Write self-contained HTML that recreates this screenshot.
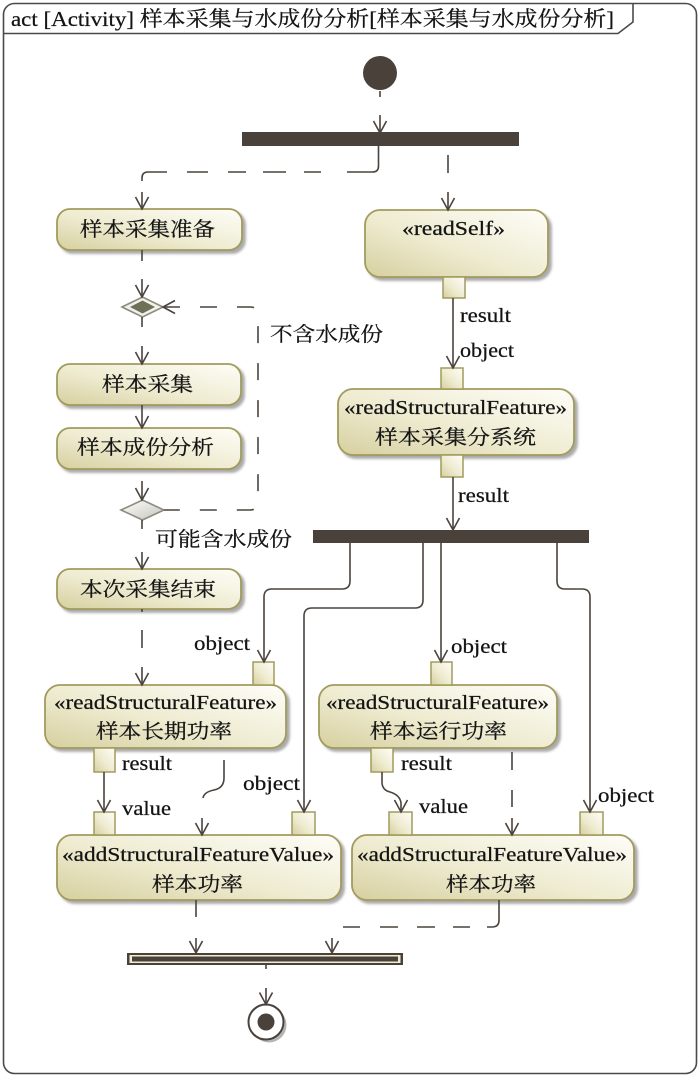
<!DOCTYPE html>
<html>
<head>
<meta charset="utf-8">
<style>
html,body{margin:0;padding:0;background:#fff;}
svg{display:block;}
text{font-family:"Liberation Serif","Noto Serif CJK SC",serif;fill:#141414;stroke:#141414;stroke-width:0.25;}
</style>
</head>
<body>
<svg width="700" height="1077" viewBox="0 0 700 1077" xmlns="http://www.w3.org/2000/svg">
<defs>
  <linearGradient id="g" x1="0" y1="1" x2="1" y2="0">
    <stop offset="0" stop-color="#d6cf9f"/>
    <stop offset="0.45" stop-color="#eeebd0"/>
    <stop offset="1" stop-color="#fefdf8"/>
  </linearGradient>
  <linearGradient id="gd" x1="0" y1="0" x2="1" y2="1">
    <stop offset="0" stop-color="#ffffff"/>
    <stop offset="1" stop-color="#c4c4bb"/>
  </linearGradient>
  <filter id="sh" x="-10%" y="-20%" width="130%" height="150%">
    <feDropShadow dx="3" dy="3" stdDeviation="1.4" flood-color="#7d7d7d" flood-opacity="0.65"/>
  </filter>
</defs>

<!-- Frame -->
<rect x="3.5" y="3.5" width="693" height="1070" rx="11" ry="11" fill="none" stroke="#4a4a4a" stroke-width="1.6"/>
<path d="M3.5,33.5 H618 L633,22 V3.5" fill="none" stroke="#4a4a4a" stroke-width="1.6"/>
<text x="11" y="26" font-size="21" textLength="603" lengthAdjust="spacingAndGlyphs">act [Activity] 样本采集与水成份分析[样本采集与水成份分析]</text>

<!-- Start node -->
<circle cx="380" cy="73" r="17" fill="#4a413b"/>

<!-- Fork bars -->
<rect x="242" y="132" width="277" height="14" fill="#4a413b"/>
<rect x="313" y="530" width="276" height="13" fill="#4a413b"/>

<!-- Join bar -->
<rect x="127" y="953" width="276" height="12" fill="#4a413b"/>
<rect x="129.5" y="955" width="271" height="8" fill="#efecd0"/>
<rect x="132" y="956.5" width="266" height="5" fill="#4a413b"/>

<!-- Final node -->
<circle cx="269" cy="1025" r="17.5" fill="#b5b5b5"/>
<circle cx="266" cy="1022" r="17.5" fill="#fff" stroke="#4a413b" stroke-width="2"/>
<circle cx="266" cy="1022" r="8.5" fill="#4a413b"/>

<!-- Decisions -->
<polygon points="122,307 142.5,297 163,307 142.5,317" fill="#f2f1ea" stroke="#8d8b7f" stroke-width="1.6"/>
<polygon points="130,307 142.5,300.5 155,307 142.5,313.5" fill="#6e7158"/>
<polygon points="121,510 142.5,500 164,510 142.5,520" fill="url(#gd)" stroke="#8d8b7f" stroke-width="1.6"/>

<!-- Action nodes -->
<g fill="url(#g)" stroke="#a29b5d" stroke-width="1.8" filter="url(#sh)">
  <rect x="57" y="209" width="185" height="41" rx="13"/>
  <rect x="365" y="210" width="183" height="67" rx="15"/>
  <rect x="57" y="364" width="184" height="41" rx="13"/>
  <rect x="57" y="428" width="184" height="41" rx="13"/>
  <rect x="57" y="569" width="184" height="40" rx="13"/>
  <rect x="338" y="389" width="236" height="66" rx="15"/>
  <rect x="45" y="685" width="241" height="63" rx="15"/>
  <rect x="319" y="685" width="238" height="63" rx="15"/>
  <rect x="57" y="835" width="284" height="65" rx="15"/>
  <rect x="352" y="835" width="282" height="65" rx="15"/>
</g>

<!-- Pins -->
<g fill="url(#g)" stroke="#a29b5d" stroke-width="1.5">
  <rect x="443" y="277" width="22" height="21"/>
  <rect x="441" y="368" width="22" height="21"/>
  <rect x="441" y="455" width="22" height="22"/>
  <rect x="253" y="662" width="21" height="23"/>
  <rect x="431" y="662" width="21" height="23"/>
  <rect x="94" y="748" width="21" height="24"/>
  <rect x="371" y="748" width="22" height="24"/>
  <rect x="94" y="812" width="21" height="23"/>
  <rect x="292" y="812" width="23" height="23"/>
  <rect x="389" y="812" width="23" height="23"/>
  <rect x="580" y="812" width="23" height="23"/>
</g>

<!-- Connectors -->
<g fill="none" stroke="#4b433d" stroke-width="1.6">
  <path d="M380,91 V97 M380,115 V133"/>
  <path d="M378.5,146 V166 Q378.5,172 372.5,172 H347"/>
  <path d="M321,172 H304 M286,172 H263 M246,172 H228 M208,172 H187 M167,172 H148 Q142,172 142,178 V181 M142,192 V209"/>
  <path d="M448,155 V173 M448,192 V210"/>
  <path d="M142,250 V261 M142,279 V297"/>
  <path d="M142,317 V327 M142,346 V364"/>
  <path d="M142,405 V428"/>
  <path d="M142,481 V500"/>
  <path d="M142,520 V529 M142,552 V569"/>
  <path d="M163,307 H250 Q258,307 258,315 V502 Q258,510 250,510 H164" stroke-dasharray="17 20"/>
  <path d="M142,609 V612 M142,630 V648 M142,667 V685"/>
  <path d="M453,298 V368"/>
  <path d="M453,477 V530"/>
  <path d="M350,543 V581 Q350,589 342,589 H272 Q264,589 264,597 V662"/>
  <path d="M423,543 V600 Q423,608 415,608 H312 Q304,608 304,616 V812"/>
  <path d="M441,543 V662"/>
  <path d="M557,543 V581 Q557,589 565,589 H582 Q590,589 590,597 V812"/>
  <path d="M104,772 V812"/>
  <path d="M224,760 V778 Q224,788 214,790 Q204,792 203,798"/>
  <path d="M202,818 V835"/>
  <path d="M382,772 V782 Q382,790 390,792 Q400,795 401,803 V812"/>
  <path d="M512,752 V770 M512,790 V807 M512,818 V835"/>
  <path d="M196,900 V917 M196,938 V953"/>
  <path d="M499,900 V920 Q499,927 492,927 H487 M470,927 H453 M435,927 H417 M398,927 H380 M360,927 H343 M332,938 V953"/>
  <path d="M266,965 V969 M266,988 V1004.5"/>
</g>

<!-- Arrowheads -->
<g fill="none" stroke="#4b433d" stroke-width="1.6">
  <polyline points="373.5,121 380,133 386.5,121"/>
  <polyline points="135.5,197 142,209 148.5,197"/>
  <polyline points="441.5,198 448,210 454.5,198"/>
  <polyline points="135.5,285 142,297 148.5,285"/>
  <polyline points="135.5,352 142,364 148.5,352"/>
  <polyline points="135.5,416 142,428 148.5,416"/>
  <polyline points="135.5,488 142,500 148.5,488"/>
  <polyline points="135.5,557 142,569 148.5,557"/>
  <polyline points="175,300.5 163,307 175,313.5"/>
  <polyline points="135.5,673 142,685 148.5,673"/>
  <polyline points="446.5,356 453,368 459.5,356"/>
  <polyline points="446.5,518 453,530 459.5,518"/>
  <polyline points="257.5,650 264,662 270.5,650"/>
  <polyline points="434.5,650 441,662 447.5,650"/>
  <polyline points="297.5,800 304,812 310.5,800"/>
  <polyline points="583.5,800 590,812 596.5,800"/>
  <polyline points="97.5,800 104,812 110.5,800"/>
  <polyline points="195.5,823 202,835 208.5,823"/>
  <polyline points="394.5,800 401,812 407.5,800"/>
  <polyline points="505.5,823 512,835 518.5,823"/>
  <polyline points="189.5,941 196,953 202.5,941"/>
  <polyline points="325.5,941 332,953 338.5,941"/>
  <polyline points="259.5,992.5 266,1004.5 272.5,992.5"/>
</g>

<!-- Node texts -->
<g font-size="20">
  <text x="80" y="236" textLength="135" lengthAdjust="spacingAndGlyphs">样本采集准备</text>
  <text x="402" y="235" textLength="103" lengthAdjust="spacingAndGlyphs">«readSelf»</text>
  <text x="102" y="391" textLength="91" lengthAdjust="spacingAndGlyphs">样本采集</text>
  <text x="77" y="454" textLength="137" lengthAdjust="spacingAndGlyphs">样本成份分析</text>
  <text x="80" y="596" textLength="136" lengthAdjust="spacingAndGlyphs">本次采集结束</text>
  <text x="344" y="414" textLength="223" lengthAdjust="spacingAndGlyphs">«readStructuralFeature»</text>
  <text x="375" y="444" textLength="161" lengthAdjust="spacingAndGlyphs">样本采集分系统</text>
  <text x="54" y="709" textLength="223" lengthAdjust="spacingAndGlyphs">«readStructuralFeature»</text>
  <text x="96" y="738" textLength="136" lengthAdjust="spacingAndGlyphs">样本长期功率</text>
  <text x="326" y="709" textLength="223" lengthAdjust="spacingAndGlyphs">«readStructuralFeature»</text>
  <text x="370" y="738" textLength="137" lengthAdjust="spacingAndGlyphs">样本运行功率</text>
  <text x="62" y="861" textLength="272" lengthAdjust="spacingAndGlyphs">«addStructuralFeatureValue»</text>
  <text x="152" y="891" textLength="91" lengthAdjust="spacingAndGlyphs">样本功率</text>
  <text x="357" y="861" textLength="270" lengthAdjust="spacingAndGlyphs">«addStructuralFeatureValue»</text>
  <text x="446" y="891" textLength="90" lengthAdjust="spacingAndGlyphs">样本功率</text>
</g>

<!-- Edge labels -->
<g font-size="20">
  <text x="460" y="322" textLength="51" lengthAdjust="spacingAndGlyphs">result</text>
  <text x="460" y="357" textLength="54" lengthAdjust="spacingAndGlyphs">object</text>
  <text x="458" y="502" textLength="51" lengthAdjust="spacingAndGlyphs">result</text>
  <text x="270" y="341" textLength="113" lengthAdjust="spacingAndGlyphs">不含水成份</text>
  <text x="155" y="546" textLength="137" lengthAdjust="spacingAndGlyphs">可能含水成份</text>
  <text x="194" y="650" textLength="56" lengthAdjust="spacingAndGlyphs">object</text>
  <text x="451" y="653" textLength="56" lengthAdjust="spacingAndGlyphs">object</text>
  <text x="122" y="770" textLength="50" lengthAdjust="spacingAndGlyphs">result</text>
  <text x="401" y="770" textLength="51" lengthAdjust="spacingAndGlyphs">result</text>
  <text x="122" y="815" textLength="49" lengthAdjust="spacingAndGlyphs">value</text>
  <text x="419" y="813" textLength="49" lengthAdjust="spacingAndGlyphs">value</text>
  <text x="243" y="790" textLength="57" lengthAdjust="spacingAndGlyphs">object</text>
  <text x="598" y="802" textLength="56" lengthAdjust="spacingAndGlyphs">object</text>
</g>
</svg>
</body>
</html>
